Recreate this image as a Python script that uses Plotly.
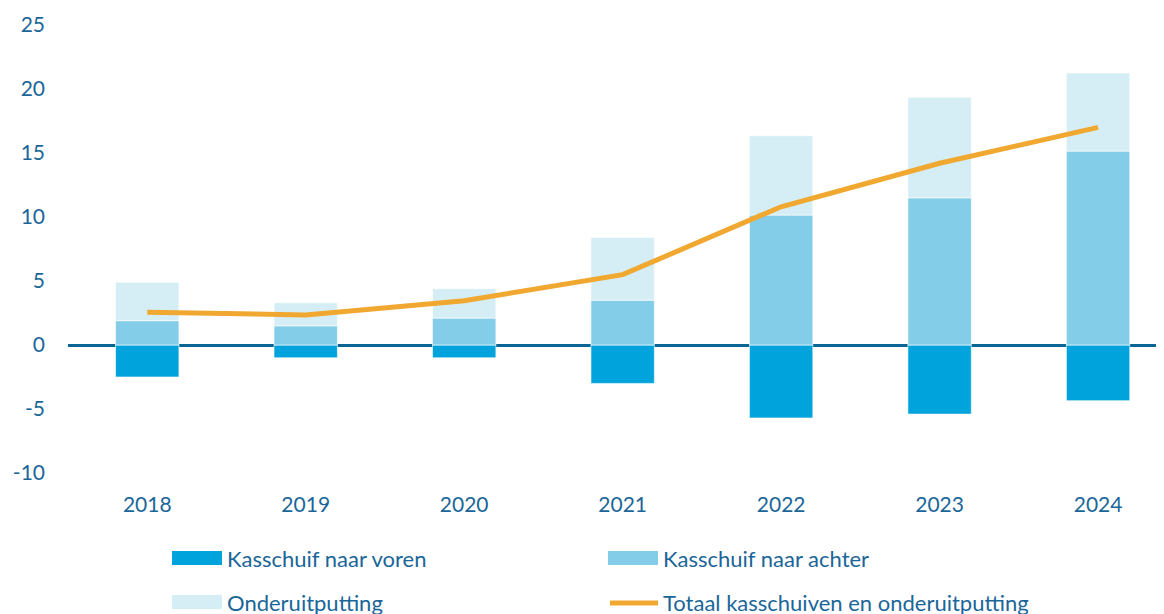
import plotly.graph_objects as go

years = ["2018", "2019", "2020", "2021", "2022", "2023", "2024"]
kasschuif_voren = [-2.5, -1.0, -1.0, -3.0, -5.7, -5.4, -4.35]
kasschuif_achter = [1.9, 1.5, 2.1, 3.5, 10.15, 11.5, 15.15]
onderuitputting = [3.0, 1.8, 2.3, 4.9, 6.2, 7.85, 6.1]
totaal = [2.55, 2.35, 3.45, 5.5, 10.8, 14.2, 17.0]
y_ticks = [-10, -5, 0, 5, 10, 15, 20, 25]
y_tick_labels = ["-10", "-5", "0", "5", "10", "15", "20", "25"]

names = ["Kasschuif naar voren", "Kasschuif naar achter", "Onderuitputting",
         "Totaal kasschuiven en onderuitputting"]
c_voren = "#00a3dc"
c_achter = "#83cde8"
c_onder = "#d5eef6"
c_line = "#f0a830"
c_text = "#1a6699"
FONT = "Lato"

# page body has an 8px margin; compensate so the picture lines up
OFF = 8
W, H = 1164 - OFF, 614 - OFF
ML, MR, MT, MB = 68 - OFF, 0, 25 - OFF, 141

fig = go.Figure()
for vals, col, nm in [(kasschuif_voren, c_voren, names[0]),
                      (kasschuif_achter, c_achter, names[1]),
                      (onderuitputting, c_onder, names[2])]:
    fig.add_trace(go.Bar(x=years, y=vals, name=nm, marker_color=col,
                         marker_line_color="rgba(255,255,255,0.6)", marker_line_width=1,
                         width=0.4, showlegend=False))
fig.add_trace(go.Scatter(x=years, y=totaal, name=names[3], mode="lines",
                         line=dict(color=c_line, width=5), showlegend=False))

fig.update_layout(
    width=W, height=H, barmode="relative",
    margin=dict(l=ML, r=MR, t=MT, b=MB),
    plot_bgcolor="white", paper_bgcolor="white",
    font=dict(family=FONT, size=21, color=c_text),
)
fig.update_xaxes(range=[-0.5, 6.416], showgrid=False, showline=False, ticks="",
                 ticklabelstandoff=17, tickfont=dict(size=21, color=c_text))
fig.update_yaxes(range=[-10, 25], tickvals=y_ticks, ticktext=y_tick_labels,
                 showgrid=False, showline=False,
                 zeroline=True, zerolinecolor="#0a6595", zerolinewidth=2.5,
                 ticks="", ticklabelstandoff=22, tickfont=dict(size=21, color=c_text))

pw = W - ML - MR
ph = H - MT - MB
def px(x):
    return (x - OFF - ML) / pw
def py(y):
    return (H - MB - (y - OFF)) / ph

legend_items = [
    (172, 558, "rect", c_voren, names[0]),
    (608, 558, "rect", c_achter, names[1]),
    (172, 602, "rect", c_onder, names[2]),
    (608, 602, "line", c_line, names[3]),
]
for x0, yc, kind, col, nm in legend_items:
    if kind == "rect":
        fig.add_shape(type="rect", xref="paper", yref="paper",
                      x0=px(x0), x1=px(x0 + 50), y0=py(yc + 7), y1=py(yc - 7),
                      fillcolor=col, line_width=0)
    else:
        fig.add_shape(type="line", xref="paper", yref="paper",
                      x0=px(x0 + 2), x1=px(x0 + 50), y0=py(yc + 1), y1=py(yc + 1),
                      line=dict(color=col, width=5))
    fig.add_annotation(xref="paper", yref="paper", x=px(x0 + 53), y=py(yc),
                       text=nm, showarrow=False, xanchor="left", yanchor="middle",
                       font=dict(family=FONT, size=22, color=c_text))

fig.write_html("out.html")
